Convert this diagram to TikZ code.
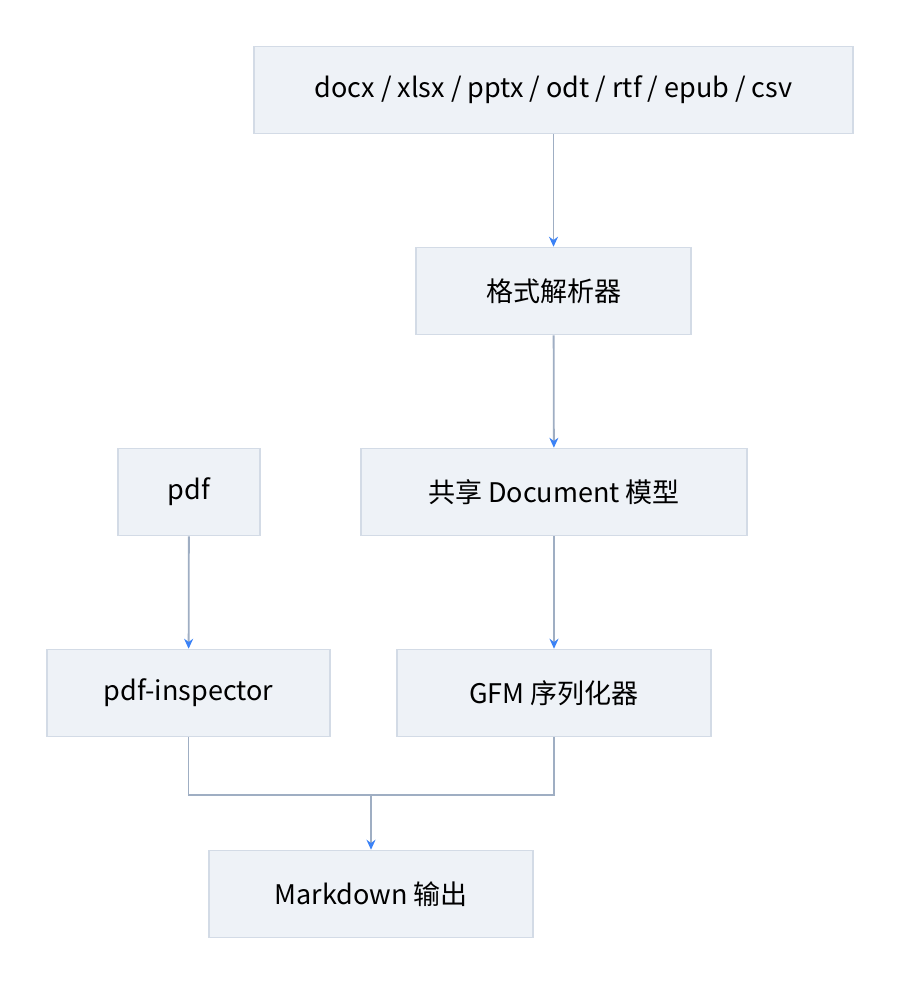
\documentclass[tikz,border=0pt]{standalone}
\usepackage{fontspec}
\setmainfont{Noto Sans CJK SC}
\usetikzlibrary{arrows.meta}
\definecolor{boxfill}{HTML}{EEF2F7}
\definecolor{boxdraw}{HTML}{D3DBE6}
\definecolor{linec}{HTML}{9FAEC3}
\definecolor{tipc}{HTML}{3B82F6}
\begin{document}
\begin{tikzpicture}[x=1pt,y=-1pt,
  box/.style={draw=boxdraw,fill=boxfill,line width=1.5pt,minimum height=87pt,inner sep=0pt,font=\fontsize{27}{32}\selectfont},
  conn/.style={draw=linec,line width=1.8pt,-{Stealth[length=10pt,width=9pt,color=tipc]}}]
\useasboundingbox (0,0) rectangle (900,985);
\node[box,minimum width=599pt] (a) at (553.5,90) {docx / xlsx / pptx / odt / rtf / epub / csv};
\node[box,minimum width=275pt] (b) at (553.5,291) {格式解析器};
\node[box,minimum width=142pt] (c) at (189,492) {pdf};
\node[box,minimum width=386pt] (d) at (554,492) {共享 Document 模型};
\node[box,minimum width=283pt] (e) at (188.5,693) {pdf-inspector};
\node[box,minimum width=314pt] (f) at (554,693) {GFM 序列化器};
\node[box,minimum width=324pt] (g) at (371,894) {Markdown 输出};
\coordinate (m) at (371,795);
\draw[conn] (a) -- (b);
\draw[conn] (b) -- (d);
\draw[conn] (c) -- (e);
\draw[conn] (d) -- (f);
\draw[draw=linec,line width=1.8pt] (e.south) |- (m) -| (f.south);
\draw[conn] (m) -- (g);
\end{tikzpicture}
\end{document}
